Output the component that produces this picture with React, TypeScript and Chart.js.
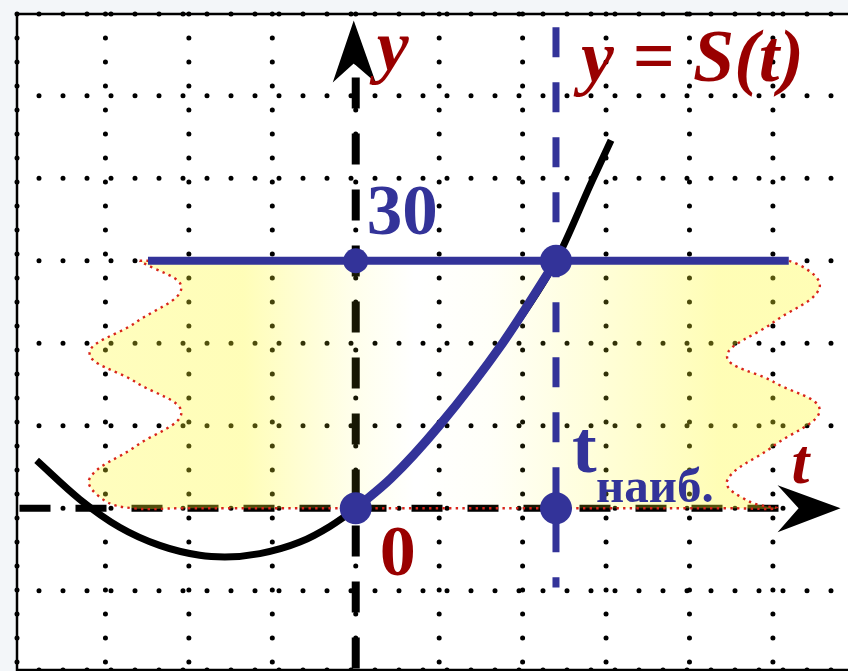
import React, { useEffect, useRef } from 'react';
import { Chart, registerables } from 'chart.js';

Chart.register(...registerables);

// ---- data ----
const T_TICKS = [-3, -2, -1, 0, 1, 2, 3, 4, 5];
const Y_TICKS = [-10, 0, 10, 20, 30, 40, 50];
const X_MIN = -4.06;
const X_MAX = 5.9;
const Y_MIN = -19.6;
const Y_MAX = 59.9;

const LEVEL = 30;
const T_MAX = 2.4;

// black curve y = S(t)
const CURVE_T = [-3.825, -3.31, -2.83, -2.35, -1.87, -1.57, -1.15, -0.67, -0.31, 0, 0.42, 1.0, 1.76, 2.4, 2.83, 3.06];
const CURVE_Y = [5.8, 1.1, -2.3, -4.5, -5.7, -5.9, -5.5, -4.1, -2.2, 0, 3.6, 10, 20, 30, 39.6, 44.6];

// blue part of the curve from 0 to t_max
const ARC_T = [0, 0.42, 1.0, 1.76, 2.4];
const ARC_Y = [0, 3.6, 10, 20, 30];

// wavy yellow band outline
const BAND_T = [-2.59, -2.0, 4.6, 5.19, 5.56, 5.0, 4.45, 5.01, 5.56, 5.0, 4.45, 4.72, 5.05, 4.5, -2.1, -2.67, -3.02, -3.19, -2.64, -2.09, -2.64, -3.19, -2.64, -2.09, -2.59];
const BAND_Y = [30, 30, 30, 30, 26.8, 22.5, 18.4, 15.3, 11.9, 7.5, 3.3, 0.8, 0, 0, 0, 0, 1.0, 3.6, 7.5, 11.6, 15.3, 18.8, 22.5, 26.7, 30];

// level line
const LEVEL_T = [-2.49, 5.19];

// key points
const DOT_T = [0, T_MAX, 0, T_MAX];
const DOT_Y = [LEVEL, LEVEL, 0, 0];
const DOT_R = [12.5, 16, 16, 16];

// axes extents
const XAXIS_T = [-4.03, 5.08];
const YAXIS_Y = [52.2, Y_MIN];
const TMAX_LINE_Y = [58.3, -9.6];

const BLUE = '#333399';
const RED = '#990000';
const SERIF = '"Liberation Serif", "Times New Roman", serif';

const pts = (xs: number[], ys: number[]) => xs.map((x, i) => ({ x, y: ys[i] }));

const backgroundPlugin = {
  id: 'bgGrid',
  beforeDraw(chart: any) {
    const { ctx, chartArea, scales } = chart;
    const { left, top, right, bottom } = chartArea;
    ctx.save();
    ctx.fillStyle = '#f3f6f9';
    ctx.fillRect(0, 0, chart.width, chart.height);
    ctx.fillStyle = '#ffffff';
    ctx.fillRect(left, top, right - left, bottom - top);

    ctx.strokeStyle = '#000';
    ctx.lineCap = 'round';
    ctx.lineWidth = 5;
    ctx.setLineDash([0, 24]);
    const xs = T_TICKS.map((v) => scales.x.getPixelForValue(v));
    const ys = Y_TICKS.map((v) => scales.y.getPixelForValue(v));
    for (const px of [left, ...xs]) {
      ctx.beginPath();
      ctx.moveTo(px, top);
      ctx.lineTo(px, bottom);
      ctx.stroke();
    }
    for (const py of [top, ...ys, bottom]) {
      ctx.beginPath();
      ctx.moveTo(left + 22, py);
      ctx.lineTo(right, py);
      ctx.stroke();
    }
    ctx.setLineDash([]);
    ctx.lineCap = 'butt';
    ctx.lineWidth = 2.5;
    ctx.beginPath();
    ctx.moveTo(right, top);
    ctx.lineTo(left, top);
    ctx.lineTo(left, bottom);
    ctx.lineTo(right, bottom);
    ctx.stroke();
    ctx.restore();
  },
};

const overlayPlugin = {
  id: 'overlay',
  afterDatasetsDraw(chart: any) {
    const { ctx, scales } = chart;
    const x0 = scales.x.getPixelForValue(0);
    const y0 = scales.y.getPixelForValue(0);
    const yL = scales.y.getPixelForValue(LEVEL);
    const xT = scales.x.getPixelForValue(T_MAX);
    const yTop = scales.y.getPixelForValue(YAXIS_Y[0]);
    const xEnd = scales.x.getPixelForValue(XAXIS_T[1]);
    ctx.save();
    // arrowheads
    ctx.fillStyle = '#000';
    ctx.beginPath();
    ctx.moveTo(x0 - 2, yTop - 57);
    ctx.lineTo(x0 - 23, yTop + 5);
    ctx.lineTo(x0 - 2, yTop - 14);
    ctx.lineTo(x0 + 20, yTop + 5);
    ctx.closePath();
    ctx.fill();
    ctx.beginPath();
    ctx.moveTo(xEnd + 61, y0);
    ctx.lineTo(xEnd - 2, y0 - 23);
    ctx.lineTo(xEnd + 19, y0);
    ctx.lineTo(xEnd - 2, y0 + 24);
    ctx.closePath();
    ctx.fill();

    ctx.textAlign = 'left';
    ctx.textBaseline = 'alphabetic';
    ctx.fillStyle = RED;
    ctx.font = `italic bold 72px ${SERIF}`;
    ctx.fillText('y', x0 + 21, yTop - 8);
    ctx.font = `italic bold 74px ${SERIF}`;
    ctx.fillText('y = S(t)', xT + 25, yTop + 3);
    ctx.font = `italic bold 64px ${SERIF}`;
    ctx.fillText('t', xEnd + 12, y0 - 25);
    ctx.font = `bold 72px ${SERIF}`;
    ctx.fillText('0', x0 + 24, y0 + 67);
    ctx.fillStyle = BLUE;
    ctx.font = `bold 71px ${SERIF}`;
    ctx.fillText('30', x0 + 11, yL - 27);
    ctx.font = `bold 74px ${SERIF}`;
    ctx.fillText('t', xT + 16, y0 - 36);
    ctx.font = `bold 49px ${SERIF}`;
    ctx.fillText('наиб.', xT + 40, y0 - 6);
    ctx.restore();
  },
};

export default function App() {
  const ref = useRef<HTMLCanvasElement | null>(null);
  useEffect(() => {
    if (!ref.current) return;
    const chart = new Chart(ref.current, {
      type: 'line',
      data: {
        datasets: [
          {
            label: 'y axis',
            data: [{ x: 0, y: YAXIS_Y[0] }, { x: 0, y: YAXIS_Y[1] }],
            borderColor: '#000',
            borderWidth: 8,
            borderDash: [31, 25],
            pointRadius: 0,
            order: 10,
          },
          {
            label: 't axis',
            data: [{ x: XAXIS_T[0], y: 0 }, { x: XAXIS_T[1], y: 0 }],
            borderColor: '#000',
            borderWidth: 7,
            borderDash: [31, 25],
            pointRadius: 0,
            order: 10,
          },
          {
            label: 'band',
            data: pts(BAND_T, BAND_Y),
            borderColor: '#d8241a',
            borderWidth: 2.4,
            borderDash: [2.4, 4.3],
            tension: 0.4,
            pointRadius: 0,
            fill: 'shape',
            backgroundColor: (c: any) => {
              const chart = c.chart;
              const { ctx, chartArea, scales } = chart;
              if (!chartArea) return 'rgba(255,250,40,0.3)';
              const g = ctx.createLinearGradient(scales.x.getPixelForValue(-3.3), 0, scales.x.getPixelForValue(5.6), 0);
              g.addColorStop(0, 'rgba(255,250,40,0.30)');
              g.addColorStop(0.22, 'rgba(255,250,40,0.33)');
              g.addColorStop(0.36, 'rgba(255,250,40,0.10)');
              g.addColorStop(0.45, 'rgba(255,250,40,0.0)');
              g.addColorStop(0.55, 'rgba(255,250,40,0.03)');
              g.addColorStop(0.7, 'rgba(255,250,40,0.18)');
              g.addColorStop(0.86, 'rgba(255,250,40,0.34)');
              g.addColorStop(1, 'rgba(255,250,40,0.34)');
              return g;
            },
            order: 9,
          },
          {
            label: 't max',
            data: [{ x: T_MAX, y: TMAX_LINE_Y[0] }, { x: T_MAX, y: TMAX_LINE_Y[1] }],
            borderColor: BLUE,
            borderWidth: 7,
            borderDash: [30, 25],
            pointRadius: 0,
            order: 8,
          },
          {
            label: 'S(t)',
            data: pts(CURVE_T, CURVE_Y),
            borderColor: '#000',
            borderWidth: 7,
            cubicInterpolationMode: 'monotone',
            pointRadius: 0,
            order: 7,
          },
          {
            label: 'level',
            data: [{ x: LEVEL_T[0], y: LEVEL }, { x: LEVEL_T[1], y: LEVEL }],
            borderColor: BLUE,
            borderWidth: 8,
            pointRadius: 0,
            order: 6,
          },
          {
            label: 'arc',
            data: pts(ARC_T, ARC_Y),
            borderColor: BLUE,
            borderWidth: 9,
            cubicInterpolationMode: 'monotone',
            pointRadius: 0,
            order: 5,
          },
          {
            label: 'points',
            data: pts(DOT_T, DOT_Y),
            showLine: false,
            pointRadius: DOT_R,
            pointBackgroundColor: BLUE,
            pointBorderWidth: 0,
            borderColor: BLUE,
            order: 4,
          },
        ],
      },
      options: {
        animation: false,
        responsive: false,
        devicePixelRatio: 1,
        events: [],
        layout: { autoPadding: false, padding: { left: 17, top: 14, right: 0, bottom: 1 } },
        plugins: { legend: { display: false }, tooltip: { enabled: false } },
        scales: {
          x: { type: 'linear', display: false, min: X_MIN, max: X_MAX },
          y: { type: 'linear', display: false, min: Y_MIN, max: Y_MAX },
        },
      },
      plugins: [backgroundPlugin, overlayPlugin],
    } as any);
    return () => chart.destroy();
  }, []);
  return (
    <div style={{ position: 'fixed', left: 0, top: 0, width: 848, height: 671, background: '#f3f6f9' }}>
      <canvas ref={ref} width={848} height={671} style={{ display: 'block' }} />
    </div>
  );
}
